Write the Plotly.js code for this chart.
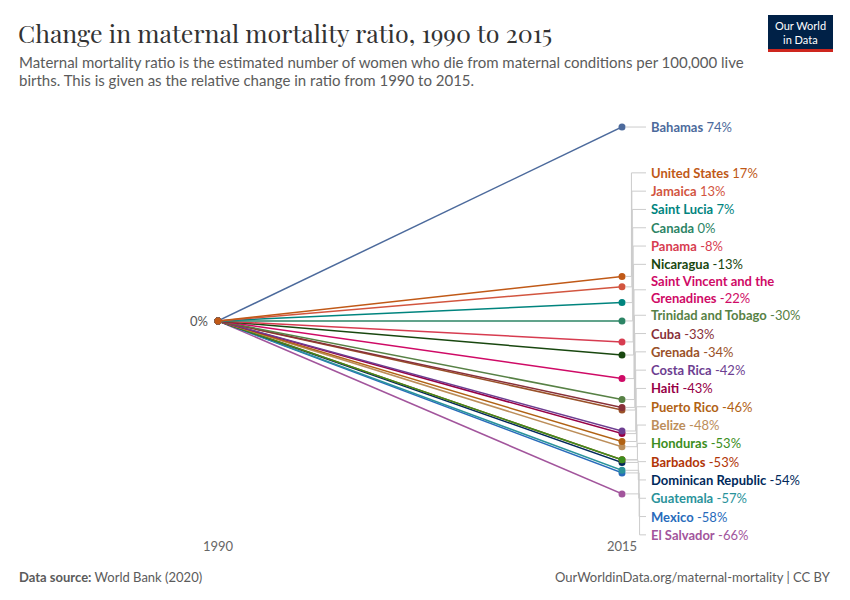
<!DOCTYPE html>
<html>
<head>
<meta charset="utf-8">
<script src="https://cdn.plot.ly/plotly-3.0.1.min.js"></script>
<style>html,body{margin:0;padding:0;background:#fff;}#chart{width:850px;height:600px;}</style>
</head>
<body>
<div id="chart"></div>
<script>
const years = [1990, 2015];
const countries = ["Bahamas","United States","Jamaica","Saint Lucia","Canada","Panama","Nicaragua","Saint Vincent and the Grenadines","Trinidad and Tobago","Cuba","Grenada","Costa Rica","Haiti","Puerto Rico","Belize","Honduras","Barbados","Dominican Republic","Guatemala","Mexico","El Salvador"];
const change1990 = [0,0,0,0,0,0,0,0,0,0,0,0,0,0,0,0,0,0,0,0,0];
const change2015 = [74,17,13,7,0,-8,-13,-22,-30,-33,-34,-42,-43,-46,-48,-53,-53,-54,-57,-58,-66];
const colors = ["#4C6A9C","#C05917","#D2553F","#00847E","#2C8465","#D73C50","#18470F","#CF0A66","#578145","#883039","#9A5129","#6D3E91","#970046","#B16214","#BC8E5A","#3B8E1D","#B13507","#00295B","#2A939B","#286BBB","#A2559C"];

// layout geometry (pixels)
const W = 850, H = 600;
const L = 218, R = 622, T = 110, B = 540;
const yRange = [-83.6, 80.5];
const pxX = px => (px - L) / (R - L);
const pxY = py => (B - py) / (B - T);
const dataToPy = v => T + (yRange[1] - v) / (yRange[1] - yRange[0]) * (B - T);

function wrap(name, max) {
  if (name.length <= max) return [name];
  const words = name.split(" ");
  const lines = [""];
  words.forEach(w => {
    const cur = lines[lines.length - 1];
    if (cur.length && (cur + " " + w).length > max) lines.push(w);
    else lines[lines.length - 1] = cur.length ? cur + " " + w : w;
  });
  return lines;
}

// traces (draw in reverse so United States ends up on top at 1990)
const order = countries.map((c, i) => i);
const drawOrder = order.filter(i => i !== 1).reverse().concat([1]);
const traces = drawOrder.map(i => ({
  type: "scatter",
  mode: "lines+markers",
  x: years,
  y: [change1990[i], change2015[i]],
  line: {color: colors[i], width: 1.5},
  marker: {color: colors[i], size: 7},
  cliponaxis: false,
  hoverinfo: "skip",
  showlegend: false
}));

// label placement (pixel space, de-overlap)
const lineH = 14.3, gap = 4, labelBottom = 542;
const items = order.map(i => {
  const lines = wrap(countries[i], 22);
  return {i, lines, h: lines.length * lineH, ideal: dataToPy(change2015[i])};
});
const pos = items.map(it => it.ideal);
for (let k = 1; k < items.length; k++) {
  const need = pos[k - 1] + (items[k - 1].h + items[k].h) / 2 + gap;
  if (pos[k] < need) pos[k] = need;
}
const last = items.length - 1;
if (pos[last] + items[last].h / 2 > labelBottom) pos[last] = labelBottom - items[last].h / 2;
for (let k = last - 1; k >= 0; k--) {
  const lim = pos[k + 1] - (items[k].h + items[k + 1].h) / 2 - gap;
  if (pos[k] > lim) pos[k] = lim;
}

const annotations = [];
const shapes = [];
items.forEach((it, k) => {
  const c = colors[it.i];
  const v = change2015[it.i];
  const txt = it.lines.map((ln, j) => "<b>" + ln + "</b>" + (j === it.lines.length - 1 ? " " + v + "%" : "")).join("<br>");
  annotations.push({
    xref: "paper", yref: "paper", x: pxX(649), y: pxY(pos[k]),
    xanchor: "left", yanchor: "middle", align: "left", showarrow: false,
    text: txt, font: {family: "Lato", size: 13, color: c}
  });
  const dy = it.ideal, ly = pos[k];
  const xv = Math.abs(dy - ly) < 0.5 ? 636 : 631 + 9 * (k / items.length);
  shapes.push({
    type: "path", xref: "paper", yref: "paper",
    path: `M ${pxX(626)},${pxY(dy)} L ${pxX(xv)},${pxY(dy)} L ${pxX(xv)},${pxY(ly)} L ${pxX(646)},${pxY(ly)}`,
    line: {color: "#cccccc", width: 1}
  });
});

// 0% label and tick labels
annotations.push({xref: "paper", yref: "y", x: pxX(210), y: 0, xanchor: "right", yanchor: "middle", showarrow: false, text: "0%", font: {family: "Lato", size: 13, color: "#555"}});
years.forEach(yr => annotations.push({xref: "x", yref: "paper", x: yr, y: pxY(546), xanchor: "center", yanchor: "middle", showarrow: false, text: String(yr), font: {family: "Lato", size: 13, color: "#666"}}));

// title, subtitle, footer
annotations.push({xref: "paper", yref: "paper", x: pxX(16), y: pxY(32), xanchor: "left", yanchor: "middle", showarrow: false,
  text: "Change in maternal mortality ratio, 1990 to 2015", font: {family: "Playfair Display, Liberation Serif, serif", size: 25, color: "#333"}});
annotations.push({xref: "paper", yref: "paper", x: pxX(17), y: pxY(62), xanchor: "left", yanchor: "middle", showarrow: false,
  text: "Maternal mortality ratio is the estimated number of women who die from maternal conditions per 100,000 live", font: {family: "Lato", size: 15, color: "#5b5b5b"}});
annotations.push({xref: "paper", yref: "paper", x: pxX(17), y: pxY(80), xanchor: "left", yanchor: "middle", showarrow: false,
  text: "births. This is given as the relative change in ratio from 1990 to 2015.", font: {family: "Lato", size: 15, color: "#5b5b5b"}});
annotations.push({xref: "paper", yref: "paper", x: pxX(17), y: pxY(577), xanchor: "left", yanchor: "middle", showarrow: false,
  text: "<b>Data source:</b> World Bank (2020)", font: {family: "Lato", size: 13, color: "#5b5b5b"}});
annotations.push({xref: "paper", yref: "paper", x: pxX(833), y: pxY(577), xanchor: "right", yanchor: "middle", showarrow: false,
  text: "OurWorldinData.org/maternal-mortality | CC BY", font: {family: "Lato", size: 13, color: "#5b5b5b"}});

// logo
shapes.push({type: "rect", xref: "paper", yref: "paper", x0: pxX(768), x1: pxX(833), y0: pxY(15), y1: pxY(49), fillcolor: "#002147", line: {width: 0}});
shapes.push({type: "rect", xref: "paper", yref: "paper", x0: pxX(768), x1: pxX(833), y0: pxY(49), y1: pxY(52), fillcolor: "#CE261E", line: {width: 0}});
annotations.push({xref: "paper", yref: "paper", x: pxX(800.5), y: pxY(26), xanchor: "center", yanchor: "middle", showarrow: false,
  text: "Our World", font: {family: "Liberation Sans Narrow, Lato", size: 11, color: "#fff"}});
annotations.push({xref: "paper", yref: "paper", x: pxX(800.5), y: pxY(40), xanchor: "center", yanchor: "middle", showarrow: false,
  text: "in Data", font: {family: "Liberation Sans Narrow, Lato", size: 11, color: "#fff"}});

const layout = {
  width: W, height: H,
  margin: {l: L, r: W - R, t: T, b: H - B, pad: 0},
  paper_bgcolor: "#fff", plot_bgcolor: "#fff",
  showlegend: false,
  xaxis: {range: [1990, 2015], tickvals: years, showticklabels: false, showgrid: true, gridcolor: "#bbbbbb", gridwidth: 1, zeroline: false, showline: false, ticks: ""},
  yaxis: {range: yRange, showgrid: false, zeroline: false, showticklabels: false, showline: false, ticks: ""},
  annotations, shapes
};

Plotly.newPlot("chart", traces, layout, {displayModeBar: false, staticPlot: true});
</script>
</body>
</html>
